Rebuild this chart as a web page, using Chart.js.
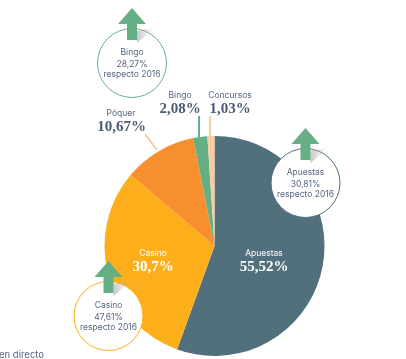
<!DOCTYPE html>
<html>
<head>
<meta charset="utf-8">
<style>
  html, body { margin: 0; padding: 0; background: #fff; overflow: hidden; }
  #wrap { width: 406px; height: 359px; }
</style>
<script src="https://cdn.jsdelivr.net/npm/chart.js@4/dist/chart.umd.min.js"></script>
</head>
<body>
<div id="wrap"><canvas id="chart" width="406" height="359"></canvas></div>
<script>
// slices, clockwise from the top
var categories = ['Apuestas', 'Casino', 'Póquer', 'Bingo', 'Concursos'];
var shares = [55.52, 30.7, 10.67, 2.08, 1.03];
var shareLabels = ['55,52%', '30,7%', '10,67%', '2,08%', '1,03%'];
var colors = ['#52707c', '#fdae1b', '#f88f2e', '#66ae84', '#fbcba0'];

// growth compared to last year
var growthNames = ['Bingo', 'Apuestas', 'Casino'];
var growthValues = ['28,27%', '30,81%', '47,61%'];
var growthNote = 'respecto 2016';

var SANS = 'Inter, sans-serif';
var SERIF = '"Liberation Serif", serif';
var TEXT = '#56677f';
var BOLD = '#4a5c72';
var GREEN = '#66ae84';
var SMALL = '8.5px ' + SANS;
var BIG = 'bold 15px ' + SERIF;

function txt(c, s, x, y, font, color) {
  c.font = font;
  c.fillStyle = color;
  c.textAlign = 'center';
  c.textBaseline = 'alphabetic';
  c.fillText(s, x, y);
}

function leader(c, x1, y1, x2, y2, color, w) {
  c.beginPath();
  c.moveTo(x1, y1);
  c.lineTo(x2, y2);
  c.strokeStyle = color;
  c.lineWidth = w;
  c.stroke();
}

// round callout with the up arrow on top
function callout(c, cx, cy, stroke, i) {
  c.beginPath();
  c.arc(cx, cy, 34.5, 0, Math.PI * 2);
  c.fillStyle = '#fff';
  c.fill();
  c.strokeStyle = stroke;
  c.lineWidth = 1;
  c.stroke();

  var top = cy - 55;
  // soft shadow of the arrow
  var g = c.createLinearGradient(cx + 5, 0, cx + 24, 0);
  g.addColorStop(0, 'rgba(150,150,150,0.55)');
  g.addColorStop(1, 'rgba(200,200,200,0)');
  c.beginPath();
  c.moveTo(cx + 5, cy - 32);
  c.lineTo(cx + 24, cy - 36);
  c.lineTo(cx + 5, cy - 20);
  c.closePath();
  c.fillStyle = g;
  c.fill();

  c.beginPath();
  c.moveTo(cx, top);
  c.lineTo(cx + 14, top + 16);
  c.lineTo(cx + 5, top + 16);
  c.lineTo(cx + 5, top + 32);
  c.lineTo(cx - 5, top + 32);
  c.lineTo(cx - 5, top + 16);
  c.lineTo(cx - 14, top + 16);
  c.closePath();
  c.fillStyle = GREEN;
  c.fill();

  txt(c, growthNames[i], cx, cy - 8, SMALL, TEXT);
  txt(c, growthValues[i], cx, cy + 4, SMALL, TEXT);
  txt(c, growthNote, cx, cy + 14, SMALL, TEXT);
}

var annotations = {
  id: 'annotations',
  afterDraw: function(chart) {
    var c = chart.ctx;
    c.save();

    leader(c, 145, 134, 157, 150, colors[2], 1);
    leader(c, 199, 116, 199, 138, colors[3], 2);
    leader(c, 210, 116, 210, 137, colors[4], 2);

    txt(c, categories[2], 121, 116, SMALL, TEXT);
    txt(c, shareLabels[2], 121.5, 131, BIG, BOLD);
    txt(c, categories[3], 180, 98, SMALL, TEXT);
    txt(c, shareLabels[3], 180, 113, BIG, BOLD);
    txt(c, categories[4], 230, 98, SMALL, TEXT);
    txt(c, shareLabels[4], 230, 113, BIG, BOLD);

    txt(c, categories[0], 264, 256, SMALL, '#fff');
    txt(c, shareLabels[0], 264, 271, BIG, '#fff');
    txt(c, categories[1], 153, 256, SMALL, '#fff');
    txt(c, shareLabels[1], 153, 271, BIG, '#fff');

    callout(c, 132, 63, GREEN, 0);
    callout(c, 305.5, 183, colors[0], 1);
    callout(c, 108.5, 316, colors[1], 2);

    c.textAlign = 'left';
    c.font = '9.5px ' + SANS;
    c.fillStyle = TEXT;
    c.fillText('en directo', -1, 358);
    c.restore();
  }
};

new Chart(document.getElementById('chart').getContext('2d'), {
  type: 'pie',
  data: {
    labels: categories,
    datasets: [{
      data: shares,
      backgroundColor: colors,
      borderWidth: 0
    }]
  },
  options: {
    responsive: false,
    animation: false,
    layout: { padding: { left: 104.5, right: 81.5, top: 136, bottom: 3 } },
    plugins: { legend: { display: false }, tooltip: { enabled: false } }
  },
  plugins: [annotations]
});
</script>
</body>
</html>
